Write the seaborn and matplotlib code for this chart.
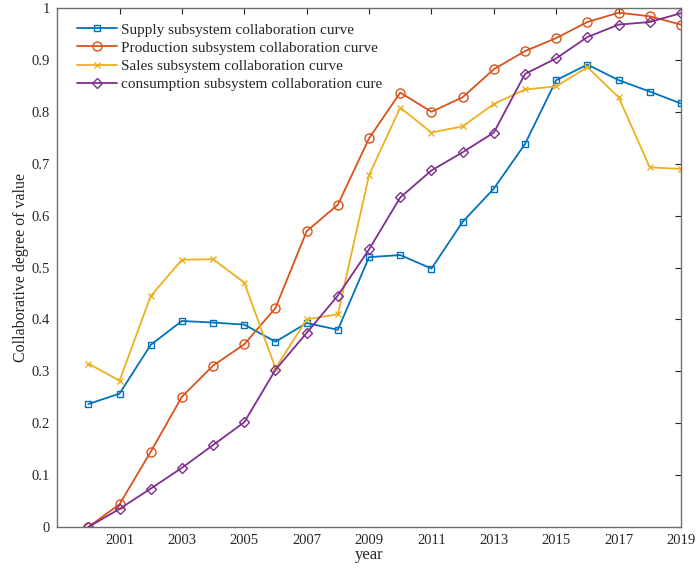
import numpy as np
import pandas as pd
import matplotlib
matplotlib.use("Agg")
import matplotlib.pyplot as plt
import seaborn as sns

years = list(range(2000, 2020))
supply = [0.237, 0.257, 0.351, 0.397, 0.394, 0.390, 0.357, 0.393, 0.380, 0.520,
          0.524, 0.498, 0.588, 0.652, 0.738, 0.861, 0.891, 0.861, 0.839, 0.816]
production = [0.0, 0.044, 0.145, 0.251, 0.311, 0.352, 0.422, 0.570, 0.621, 0.749,
              0.837, 0.800, 0.828, 0.882, 0.917, 0.942, 0.973, 0.991, 0.984, 0.968]
sales = [0.315, 0.282, 0.445, 0.515, 0.516, 0.471, 0.306, 0.400, 0.410, 0.678,
         0.808, 0.760, 0.772, 0.815, 0.843, 0.849, 0.886, 0.828, 0.693, 0.690]
consumption = [0.0, 0.035, 0.074, 0.114, 0.158, 0.202, 0.303, 0.374, 0.446, 0.535,
               0.635, 0.687, 0.722, 0.760, 0.873, 0.903, 0.944, 0.968, 0.973, 0.990]

names = ["Supply subsystem collaboration curve",
         "Production subsystem collaboration curve",
         "Sales subsystem collaboration curve",
         "consumption subsystem collaboration cure"]
colours = ["#0072BD", "#D95319", "#EDB120", "#7E2F8E"]
markers = ["s", "o", "x", "D"]
msizes = [5, 6.5, 5, 5.5]

sns.set_style("white")
plt.rcParams["font.family"] = ["Liberation Serif", "DejaVu Serif"]

fig = plt.figure(figsize=(6.97, 5.71), dpi=100)
ax = fig.add_axes([0.082, 0.077, 0.895, 0.909])

for vals, name, col, mk, ms in zip([supply, production, sales, consumption],
                                   names, colours, markers, msizes):
    df = pd.DataFrame({"year": years, "value": vals})
    sns.lineplot(data=df, x="year", y="value", ax=ax, color=col, marker=mk,
                 markersize=ms, mfc="none", mec=col, mew=1.0, linewidth=1.3,
                 label=name)

ax.set_xlim(1999, 2019)
ax.set_ylim(0, 1)
ax.set_xticks(range(2001, 2020, 2))
ax.set_yticks(np.arange(0, 1.01, 0.1))
ax.set_yticklabels(["0"] + ["%.1f" % v for v in np.arange(0.1, 0.95, 0.1)] + ["1"])
ax.tick_params(direction="in", length=4, width=0.8, colors="#262626",
               top=True, right=True, labelsize=10.5, pad=5)
for s in ax.spines.values():
    s.set_color("#6e6e6e")
    s.set_linewidth(1.0)
ax.set_xlabel("year", fontsize=12, labelpad=0)
ax.set_ylabel("Collaborative degree of value", fontsize=11.5, labelpad=2)
ax.legend(loc="upper left", frameon=False, fontsize=11, handlelength=2.6,
          handletextpad=0.3, labelspacing=0.3, borderaxespad=0.4,
          bbox_to_anchor=(0.012, 0.995))

fig.savefig("out.png", dpi=100)
